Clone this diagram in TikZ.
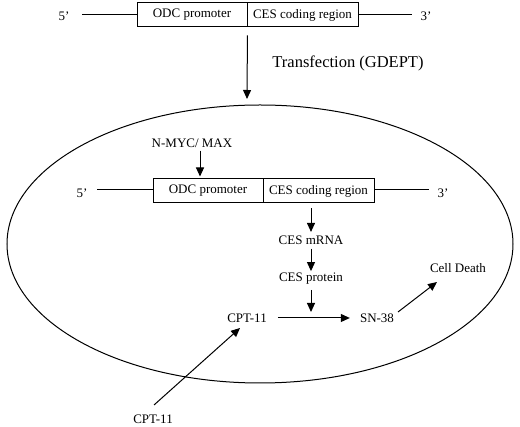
\documentclass[tikz,border=0pt]{standalone}
\usepackage{fontspec}
\setmainfont{Liberation Serif}
\usetikzlibrary{arrows.meta,calc,shapes.geometric}
\begin{document}
\begin{tikzpicture}[x=1pt,y=-1pt,
  arr/.style={-{Triangle[length=9pt,width=8pt]},line width=1pt},
  ln/.style={line width=1pt},
  seg/.style={draw,line width=1pt,minimum height=24pt,inner sep=0pt,font=\fontsize{13}{15}\selectfont},
  lbl/.style={inner sep=1pt,font=\fontsize{13}{15}\selectfont}]
\useasboundingbox (0,0) rectangle (520,427);
% top construct
\node[seg,minimum width=110pt] (odcA) at (192,15) {ODC promoter};
\node[seg,minimum width=111pt] (cesA) at (302.5,15) {CES coding region};
\node[lbl] (fiveA) at (64,16) {5’};
\node[lbl] (threeA) at (426,16) {3’};
\coordinate (lA) at (82,15);
\coordinate (rA) at (412,15);
\draw[ln] (lA) -- (lA -| odcA.west);
\draw[ln] (rA -| cesA.east) -- (rA);
\node[lbl,font=\fontsize{16.5}{19}\selectfont] (trans) at (348,63) {Transfection (GDEPT)};
\coordinate (tgt) at (247,99);
\draw[arr,shorten <=8pt] (odcA.south east) -- (tgt);
% cell
\node[draw,ellipse,line width=1pt,minimum width=506pt,minimum height=278pt,inner sep=0pt] (cell) at (260,244) {};
% inner construct
\node[seg,minimum width=110pt] (odcB) at (208,191) {ODC promoter};
\node[seg,minimum width=111pt] (cesB) at (318.5,191) {CES coding region};
\node[lbl] (fiveB) at (82,193) {5’};
\node[lbl] (threeB) at (443,193) {3’};
\coordinate (lB) at (97,190);
\coordinate (rB) at (429,190);
\draw[ln] (lB) -- (lB -| odcB.west);
\draw[ln] (rB -| cesB.east) -- (rB);
\node[lbl] (myc) at (192,143) {N-MYC/ MAX};
\draw[arr,shorten <=2pt,shorten >=2pt] ([xshift=8pt]myc.south) -- ([xshift=8pt]myc.south |- odcB.north);
% pathway
\node[lbl] (mrna) at (311,240) {CES mRNA};
\node[lbl] (prot) at (311,279) {CES protein};
\node[lbl] (cpt) at (247,318) {CPT-11};
\node[lbl] (sn) at (377,318) {SN-38};
\node[lbl] (death) at (458,268) {Cell Death};
\node[lbl] (cptout) at (153,419) {CPT-11};
\draw[arr,shorten <=5pt,shorten >=2.5pt] (mrna.north |- cesB.south) -- (mrna.north);
\draw[arr,shorten <=3pt,shorten >=1pt] (mrna.south) -- (prot.north);
\coordinate (join) at (311,319);
\draw[arr,shorten <=4pt,shorten >=7pt] (prot.south) -- (join);
\draw[arr,shorten <=10pt,shorten >=9pt] (cpt.east) -- (sn.west);
\coordinate (snout) at (398,312);
\coordinate (deathin) at (437,282);
\draw[arr] (snout) -- (deathin);
\coordinate (cptfrom) at (154,405);
\coordinate (cptto) at (240,328);
\draw[arr] (cptfrom) -- (cptto);
\end{tikzpicture}
\end{document}
